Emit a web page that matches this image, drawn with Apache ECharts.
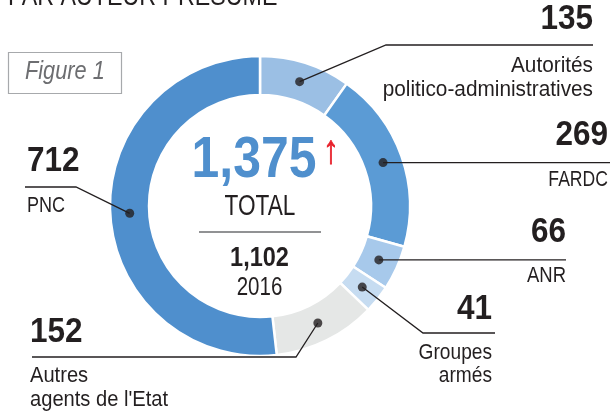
<!DOCTYPE html>
<html><head><meta charset="utf-8">
<script src="https://cdn.jsdelivr.net/npm/echarts@6/dist/echarts.min.js"></script>
<style>html,body{margin:0;padding:0;background:#fff}#c{width:611px;height:415px}</style>
</head><body><div id="c"></div>
<script>
// ---- data ----
const categories = ['Autorités politico-administratives', 'FARDC', 'ANR', 'Groupes armés', "Autres agents de l'Etat", 'PNC'];
const labelTexts = ['Autorités\npolitico-administratives', 'FARDC', 'ANR', 'Groupes\narmés', "Autres\nagents de l'Etat", 'PNC'];
const values = [135, 269, 66, 41, 152, 712];
const colors = ['#9bbfe4', '#5b9bd5', '#a7c9eb', '#c6dcf1', '#e5e7e6', '#4f8fcd'];
const previousTotal = 1102;
const previousYear = '2016';
const titleText = 'PAR AUTEUR PRÉSUMÉ';
const figureText = 'Figure 1';

// ---- layout ----
const CX = 260, CY = 206, R_IN = 111, R_OUT = 150;
const FONT = "'Liberation Sans',Arimo,Arial,sans-serif";
const INK = '#231f20';
const layout = [
  {elbow: [386, 45], end: 593, x: 593, align: 'right', valY: 19.5, txtY: 77.5, lh: 24, sx: 0.945},
  {elbow: null, end: 610, x: 608, align: 'right', valY: 135.5, txtY: 179.5, lh: 24, sx: 0.8},
  {elbow: null, end: 566, x: 566, align: 'right', valY: 232.5, txtY: 275.5, lh: 24, sx: 0.84},
  {elbow: [423, 333], end: 495, x: 492, align: 'right', valY: 309.5, txtY: 364, lh: 23, sx: 0.87},
  {elbow: [296, 357], end: 32, x: 30, align: 'left', valY: 332, txtY: 387.5, lh: 24, sx: 0.915},
  {elbow: [76, 187], end: 25, x: 27, align: 'left', valY: 161.5, txtY: 205.5, lh: 24, sx: 0.82}
];

const total = values.reduce((a, b) => a + b, 0);
let acc = 0;
const mids = values.map(v => { const m = acc + v / 2; acc += v; return m; });
const R_MID = (R_IN + R_OUT) / 2;

const chart = echarts.init(document.getElementById('c'));
chart.setOption({
  animation: false,
  polar: {center: [CX, CY], radius: [0, R_OUT]},
  angleAxis: {type: 'value', min: 0, max: total, startAngle: 90, clockwise: true, show: false},
  radiusAxis: {type: 'value', min: 0, max: R_OUT, show: false},
  series: [
    {
      type: 'pie', center: [CX, CY], radius: [R_IN, R_OUT], startAngle: 90, clockwise: true,
      silent: true, label: {show: false}, labelLine: {show: false},
      itemStyle: {borderColor: '#fff', borderWidth: 2.5},
      data: categories.map((c, i) => ({name: c, value: values[i], itemStyle: {color: colors[i]}}))
    },
    {
      type: 'scatter', coordinateSystem: 'polar', symbol: 'circle', symbolSize: 9, silent: true, z: 5,
      itemStyle: {color: INK},
      data: mids.map(m => [R_MID, m])
    }
  ]
});

function dotPx(i) {
  let p = null;
  try { p = chart.convertToPixel({seriesIndex: 1}, [R_MID, mids[i]]); } catch (e) { p = null; }
  if (!p || isNaN(p[0])) {
    const a = (90 - mids[i] / total * 360) * Math.PI / 180;
    p = [CX + R_MID * Math.cos(a), CY - R_MID * Math.sin(a)];
  }
  return p;
}

function txt(x, y, text, font, fill, align, sx, extra) {
  return {type: 'text', x: x, y: y, scaleX: sx,
    style: Object.assign({text: text, font: font, fill: fill, align: align, verticalAlign: 'middle'}, extra || {})};
}

const g = [];
values.forEach((v, i) => {
  const L = layout[i];
  const d = dotPx(i);
  let pts;
  if (L.elbow) pts = [d, L.elbow, [L.end, L.elbow[1]]];
  else pts = [d, [L.end, d[1]]];
  g.push({type: 'polyline', shape: {points: pts}, style: {stroke: INK, lineWidth: 1.3, fill: null}, z: 4});
  g.push(txt(L.x, L.valY, String(v), 'bold 35px ' + FONT, INK, L.align, 0.9));
  g.push(txt(L.x, L.txtY, labelTexts[i], '22px ' + FONT, INK, L.align, L.sx, {lineHeight: L.lh}));
});
// center
g.push(txt(254, 161, total.toLocaleString('en-US'), 'bold 58px ' + FONT, '#4f8fcd', 'center', 0.86));
g.push(txt(331, 151.5, '↑', 'bold 40px ' + FONT, '#e8202a', 'center', 0.8, {stroke: '#e8202a', lineWidth: 0.8}));
g.push(txt(260, 206.5, 'TOTAL', '29px ' + FONT, INK, 'center', 0.78));
g.push({type: 'line', shape: {x1: 199, y1: 232, x2: 321, y2: 232}, style: {stroke: '#6d6e71', lineWidth: 1.5}});
g.push(txt(259.5, 258, previousTotal.toLocaleString('en-US'), 'bold 28px ' + FONT, INK, 'center', 0.84));
g.push(txt(259.5, 288, previousYear, '25px ' + FONT, INK, 'center', 0.82));
// figure box & title
g.push({type: 'rect', shape: {x: 8.5, y: 52.5, width: 113, height: 41}, style: {stroke: '#a7a9ac', lineWidth: 1.2, fill: null}});
g.push(txt(25, 72, figureText, 'italic 25px ' + FONT, '#6d6e71', 'left', 0.87));
g.push(txt(8, -3, titleText, '28px ' + FONT, INK, 'left', 0.83));

chart.setOption({graphic: g});
</script></body></html>
